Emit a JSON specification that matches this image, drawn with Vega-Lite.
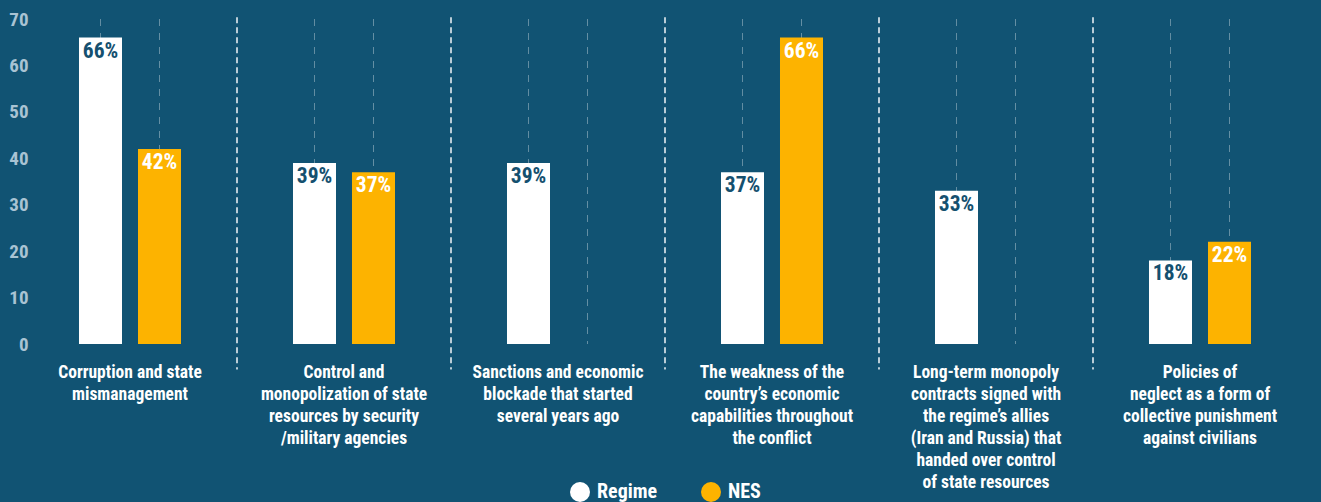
{
  "$schema": "https://vega.github.io/schema/vega-lite/v6.json",
  "autosize": "none",
  "width": 1266,
  "height": 325,
  "padding": {"left": 55, "top": 19, "right": 0, "bottom": 158},
  "background": "#115373",
  "config": {
    "view": {"stroke": null},
    "font": "Roboto Condensed, Roboto"
  },
  "datasets": {
    "main": [
      {"category": "Corruption and state\nmismanagement", "series": "Regime", "value": 66, "label": "66%"},
      {"category": "Corruption and state\nmismanagement", "series": "NES", "value": 42, "label": "42%"},
      {"category": "Control and\nmonopolization of state\nresources by security\n/military agencies", "series": "Regime", "value": 39, "label": "39%"},
      {"category": "Control and\nmonopolization of state\nresources by security\n/military agencies", "series": "NES", "value": 37, "label": "37%"},
      {"category": "Sanctions and economic\nblockade that started\nseveral years ago", "series": "Regime", "value": 39, "label": "39%"},
      {"category": "Sanctions and economic\nblockade that started\nseveral years ago", "series": "NES", "value": null, "label": ""},
      {"category": "The weakness of the\ncountry’s economic\ncapabilities throughout\nthe conflict", "series": "Regime", "value": 37, "label": "37%"},
      {"category": "The weakness of the\ncountry’s economic\ncapabilities throughout\nthe conflict", "series": "NES", "value": 66, "label": "66%"},
      {"category": "Long-term monopoly\ncontracts signed with\nthe regime’s allies\n(Iran and Russia) that\nhanded over control\nof state resources", "series": "Regime", "value": 33, "label": "33%"},
      {"category": "Long-term monopoly\ncontracts signed with\nthe regime’s allies\n(Iran and Russia) that\nhanded over control\nof state resources", "series": "NES", "value": null, "label": ""},
      {"category": "Policies of\nneglect as a form of\ncollective punishment\nagainst civilians", "series": "Regime", "value": 18, "label": "18%"},
      {"category": "Policies of\nneglect as a form of\ncollective punishment\nagainst civilians", "series": "NES", "value": 22, "label": "22%"}
    ],
    "separators": [
      {"category": "Corruption and state\nmismanagement"},
      {"category": "Control and\nmonopolization of state\nresources by security\n/military agencies"},
      {"category": "Sanctions and economic\nblockade that started\nseveral years ago"},
      {"category": "The weakness of the\ncountry’s economic\ncapabilities throughout\nthe conflict"},
      {"category": "Long-term monopoly\ncontracts signed with\nthe regime’s allies\n(Iran and Russia) that\nhanded over control\nof state resources"}
    ]
  },
  "resolve": {"scale": {"color": "independent"}},
  "layer": [
    {
      "data": {"name": "main"},
      "mark": {"type": "rule", "color": "#ffffff", "opacity": 0.35, "strokeWidth": 1, "strokeDash": [7, 7]},
      "encoding": {
        "x": {"field": "category", "type": "nominal", "sort": null},
        "xOffset": {"field": "series", "type": "nominal", "sort": ["Regime", "NES"]},
        "y": {"datum": 70, "type": "quantitative"},
        "y2": {"datum": 0}
      }
    },
    {
      "data": {"name": "separators"},
      "mark": {"type": "rule", "color": "#ffffff", "opacity": 0.95, "strokeWidth": 1.5, "strokeDash": [6, 4]},
      "encoding": {
        "x": {"field": "category", "type": "nominal", "sort": null, "bandPosition": 1},
        "y": {"datum": 70.4, "type": "quantitative"},
        "y2": {"datum": -5.5}
      }
    },
    {
      "data": {"name": "main"},
      "mark": {"type": "bar"},
      "encoding": {
        "x": {
          "field": "category", "type": "nominal", "sort": null,
          "scale": {"range": [-32, 1252], "paddingInner": 0, "paddingOuter": 0},
          "axis": {
            "title": null, "domain": false, "ticks": false, "grid": false,
            "labelAngle": 0, "labelAlign": "center", "labelExpr": "split(datum.label, '\\n')",
            "labelFont": "Roboto Condensed, Roboto", "labelFontWeight": "bold",
            "labelFontSize": 17.5, "labelColor": "#ffffff", "labelLineHeight": 22,
            "labelPadding": 19, "labelBaseline": "top", "labelLimit": 400
          }
        },
        "xOffset": {
          "field": "series", "type": "nominal", "sort": ["Regime", "NES"],
          "scale": {"paddingInner": 0.271, "paddingOuter": 0.949}
        },
        "y": {
          "field": "value", "type": "quantitative",
          "scale": {"domain": [0, 70], "nice": false},
          "axis": {
            "title": null, "domain": false, "ticks": false,
            "values": [0, 10, 20, 30, 40, 50, 60, 70],
            "labelFont": "Roboto Condensed, Roboto", "labelFontWeight": "bold",
            "labelFontSize": 19, "labelColor": "#a9c3d3", "labelPadding": 27,
            "gridColor": "#9dbccd", "gridOpacity": 0.75, "gridWidth": 1.5
          }
        },
        "color": {
          "field": "series", "type": "nominal", "sort": ["Regime", "NES"],
          "scale": {"domain": ["Regime", "NES"], "range": ["#ffffff", "#fdb300"]},
          "legend": {
            "title": null, "orient": "none", "direction": "horizontal",
            "legendX": 515, "legendY": 463,
            "symbolType": "circle", "symbolSize": 400, "symbolStrokeWidth": 0,
            "labelFont": "Roboto Condensed, Roboto", "labelFontWeight": "bold",
            "labelFontSize": 20, "labelColor": "#ffffff", "labelOffset": 7,
            "columnPadding": 43
          }
        }
      }
    },
    {
      "data": {"name": "main"},
      "mark": {"type": "text", "baseline": "top", "dy": 3, "font": "Roboto Condensed, Roboto", "fontWeight": "bold", "fontSize": 21.5},
      "encoding": {
        "x": {"field": "category", "type": "nominal", "sort": null},
        "xOffset": {"field": "series", "type": "nominal", "sort": ["Regime", "NES"]},
        "y": {"field": "value", "type": "quantitative"},
        "text": {"field": "label"},
        "color": {
          "condition": {"test": "datum.series === 'Regime'", "value": "#15506f"},
          "value": "#ffffff"
        }
      }
    }
  ]
}
